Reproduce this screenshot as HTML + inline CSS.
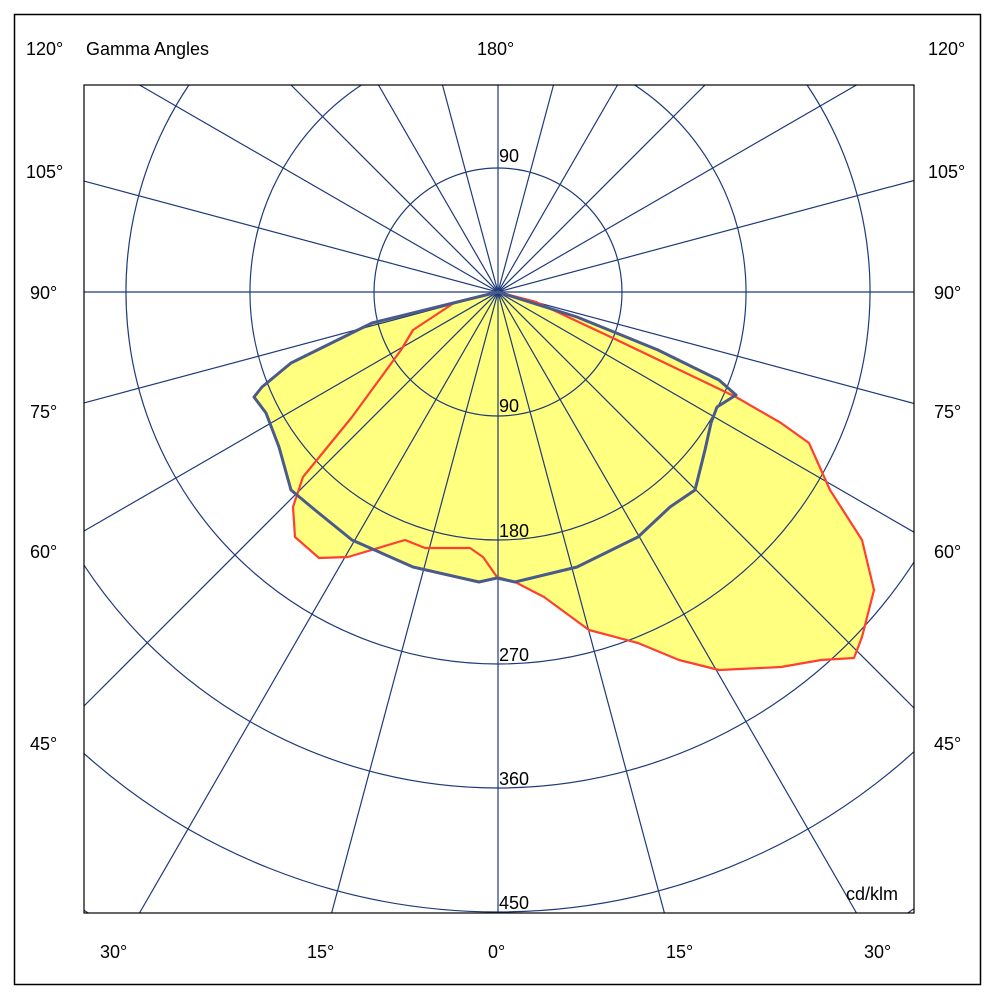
<!DOCTYPE html><html><head><style>html,body{margin:0;padding:0;width:994px;height:1000px;overflow:hidden;background:#fff}svg{display:block}text{font-family:"Liberation Sans",sans-serif;font-size:18px;fill:#000}</style></head><body>
<svg width="994" height="1000" viewBox="0 0 994 1000">
<rect x="14.5" y="14.5" width="966" height="970" fill="#fff" stroke="#000" stroke-width="1.5"/>
<path fill="#ffff80" stroke="none" d="M498,292 L454,303 L413,330 L401,350 L352,417 L303,477 L293,507 L295,537 L319,558 L348,557 L405,540 L425,548 L470,548 L483,557 L497,577 L515,582 L544,597 L589,630 L638,643 L679,660 L719,670 L781,667 L821,660 L854,658 L862,637 L874,590 L862,540 L830,490 L809,443 L781,423 L736,397 L617,340 L536,302 Z"/>
<path fill="#ffff80" stroke="none" d="M498,292 L372,323 L291,363 L262,387 L254,397 L266,413 L279,447 L291,490 L315,510 L352,540 L413,567 L479,582 L497,578 L515,582 L577,567 L638,537 L670,507 L695,490 L705,450 L711,423 L717,407 L736,395 L719,380 L658,350 L577,317 Z"/>
<g stroke="#1f3a7a" stroke-width="1.2" fill="none">
<circle cx="498" cy="292" r="124"/>
<path d="M361.4,85 A248,248 0 1 0 634.6,85"/>
<path d="M188.9,85 A372,372 0 1 0 807.1,85"/>
<path d="M84,565.2 A496,496 0 0 0 914,562.1"/>
<path d="M84,753.5 A620,620 0 0 0 914,751.7"/>
<path d="M84,910.2 A744,744 0 0 0 88.3,913 M907.7,913 A744,744 0 0 0 914,908.8"/>
<line x1="498" y1="85" x2="498" y2="913"/>
<line x1="442.5" y1="85" x2="664.4" y2="913"/>
<line x1="378.5" y1="85" x2="856.5" y2="913"/>
<line x1="291" y1="85" x2="914" y2="708"/>
<line x1="139.5" y1="85" x2="914" y2="532.2"/>
<line x1="84" y1="181.1" x2="914" y2="403.5"/>
<line x1="84" y1="292" x2="914" y2="292"/>
<line x1="84" y1="402.9" x2="914" y2="180.5"/>
<line x1="84" y1="531" x2="856.5" y2="85"/>
<line x1="84" y1="706" x2="705" y2="85"/>
<line x1="139.5" y1="913" x2="617.5" y2="85"/>
<line x1="331.6" y1="913" x2="553.5" y2="85"/>
</g>
<path fill="none" stroke="#ff4030" stroke-width="2.2" stroke-linejoin="round" d="M498,292 L454,303 L413,330 L401,350 L352,417 L303,477 L293,507 L295,537 L319,558 L348,557 L405,540 L425,548 L470,548 L483,557 L497,577 L515,582 L544,597 L589,630 L638,643 L679,660 L719,670 L781,667 L821,660 L854,658 L862,637 L874,590 L862,540 L830,490 L809,443 L781,423 L736,397 L617,340 L536,302 Z"/>
<path fill="none" stroke="#4a5a8a" stroke-width="3" stroke-linejoin="round" d="M498,292 L372,323 L291,363 L262,387 L254,397 L266,413 L279,447 L291,490 L315,510 L352,540 L413,567 L479,582 L497,578 L515,582 L577,567 L638,537 L670,507 L695,490 L705,450 L711,423 L717,407 L736,395 L719,380 L658,350 L577,317 Z"/>
<rect x="84" y="85" width="830" height="828" fill="none" stroke="#000" stroke-width="1.2"/>
<text x="499" y="162">90</text><text x="499" y="412">90</text><text x="499" y="537">180</text><text x="499" y="661">270</text><text x="499" y="785">360</text><text x="499" y="909">450</text>
<text x="846" y="900">cd/klm</text>
<text x="26" y="55">120°</text><text x="86" y="55">Gamma Angles</text><text x="477" y="55">180°</text><text x="928" y="55">120°</text>
<text x="26" y="178">105°</text><text x="928" y="178">105°</text>
<text x="30" y="299">90°</text><text x="934" y="299">90°</text>
<text x="30" y="418">75°</text><text x="934" y="418">75°</text>
<text x="30" y="558">60°</text><text x="934" y="558">60°</text>
<text x="30" y="750">45°</text><text x="934" y="750">45°</text>
<text x="100" y="958">30°</text><text x="307" y="958">15°</text><text x="488" y="958">0°</text><text x="666" y="958">15°</text><text x="864" y="958">30°</text>
</svg></body></html>
